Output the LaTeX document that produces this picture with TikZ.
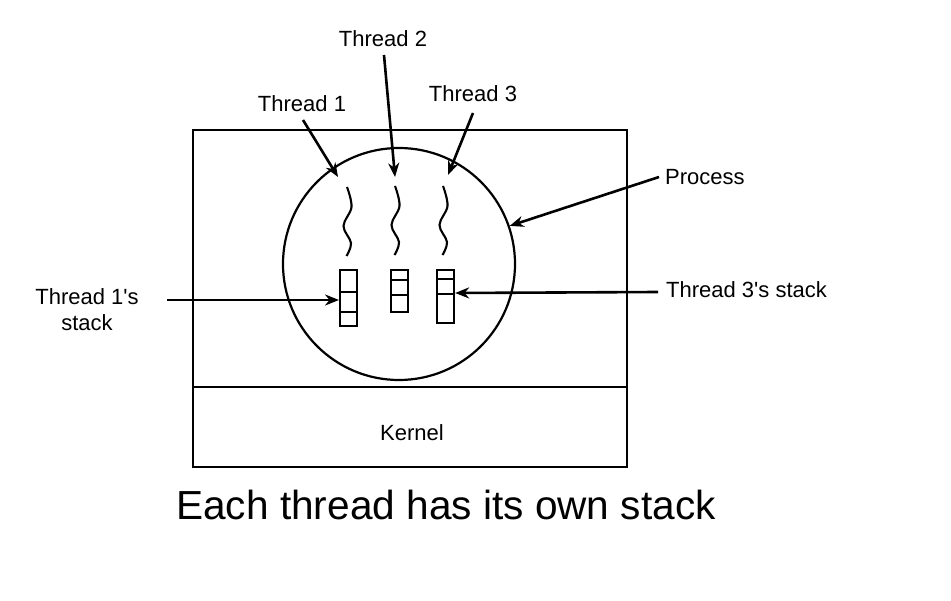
\documentclass[tikz,border=0pt]{standalone}
\usepackage{fontspec}
\setmainfont{Liberation Sans}
\usetikzlibrary{arrows.meta}
\begin{document}
\begin{tikzpicture}[x=1pt,y=-1pt,
  lbl/.style={font=\fontsize{22}{26}\selectfont, inner sep=0pt},
  arr/.style={line width=2.6pt, -{Stealth[length=14pt,width=11pt]}},
  frame/.style={line width=1.8pt},
  stackbox/.style={draw, line width=2pt, minimum width=17pt, inner sep=0pt},
  squigline/.style={line width=2.1pt}]
\useasboundingbox (0,0) rectangle (951,601);
% outer frame
\draw[frame] (193,130) rectangle (627,467);
\draw[frame] (193,387) -- (627,387);
\node[lbl] (kernel) at (412,433) {Kernel};
% process circle
\node[draw, circle, line width=2.2pt, minimum size=232pt, inner sep=0pt] (proc) at (399,264) {};
% squiggles
\foreach \sx/\sy in {347/187, 395/186, 443/186}{
  \draw[squigline, shift={(\sx,\sy)}] plot[smooth, tension=0.6] coordinates {(0,0) (4.5,20) (-3.5,39) (4,56) (-0.5,69)};
}
\coordinate (t1) at (338,177);
\coordinate (t2) at (395,177);
\coordinate (t3) at (448,175);
% stacks
\node[stackbox, minimum height=56pt] (s1) at (348.5,298) {};
\draw[line width=2pt] (340,292) -- (357,292) (340,312) -- (357,312);
\node[stackbox, minimum height=41.7pt] (s2) at (399,290.85) {};
\draw[line width=2pt] (390.7,280) -- (407.3,280) (390.7,295) -- (407.3,295);
\node[stackbox, minimum height=53.3pt] (s3) at (445.65,296.65) {};
\draw[line width=2pt] (437.3,279.3) -- (454,279.3) (437.3,294.3) -- (454,294.3);
% labels
\node[lbl] (l1) at (302,104) {Thread 1};
\node[lbl] (l2) at (383,39) {Thread 2};
\node[lbl] (l3) at (473,94) {Thread 3};
\node[lbl, anchor=west] (lp) at (665,177) {Process};
\node[lbl, anchor=west] (ls3) at (666,290) {Thread 3\textquotesingle s stack};
\node[lbl, align=center] (ls1) at (87,310) {Thread 1\textquotesingle s\\stack};
\node[font=\fontsize{40.6}{46}\selectfont, inner sep=0pt] (cap) at (446,505) {Each thread has its own stack};
% arrows
\draw[arr] (303,120) -- (t1);
\draw[arr] (384,55) -- (t2);
\draw[arr] (473,113) -- (t3);
\draw[arr] (lp.west) ++(-6,0) -- (proc.19);
\draw[arr] (ls3.west) ++(-8,2) -- (s3.east |- 0,293);
\draw[arr] (167,300) -- (s1.west |- 0,300);
\end{tikzpicture}
\end{document}
